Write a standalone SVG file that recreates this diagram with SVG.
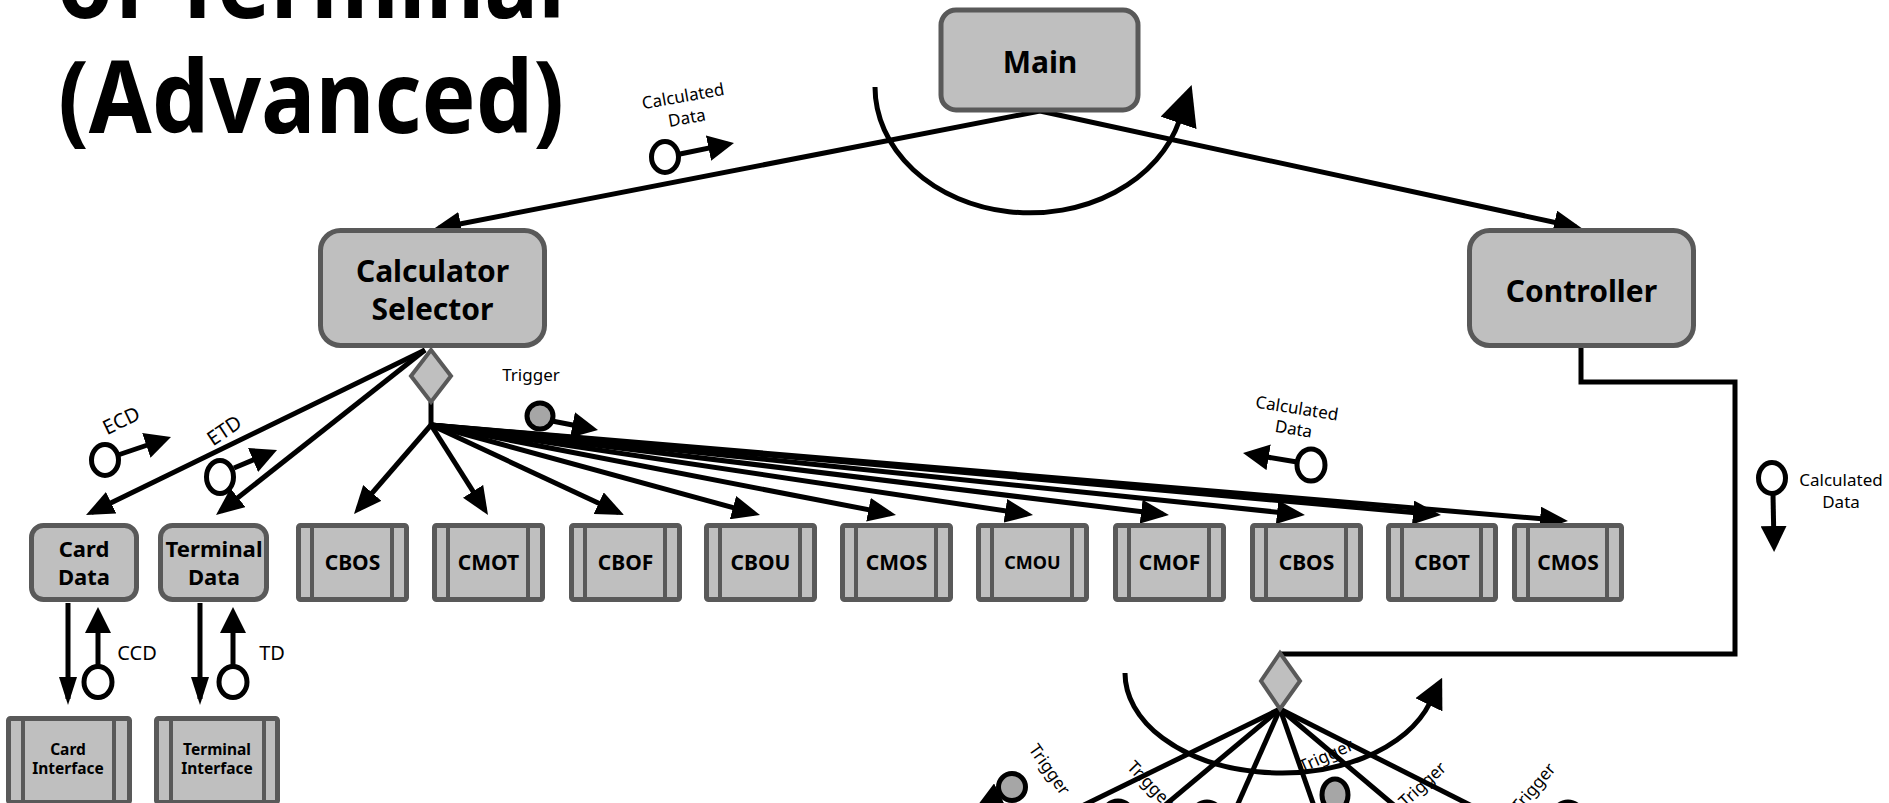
<svg xmlns="http://www.w3.org/2000/svg" width="1889" height="803" viewBox="0 0 1889 803">
<defs>
<style>
.box{fill:#bfbfbf;stroke:#595959;stroke-width:5}
.inner{stroke:#595959;stroke-width:4;fill:none}
.dia{fill:#bfbfbf;stroke:#595959;stroke-width:4}
.lbl{font-family:'Noto Sans','Open Sans',sans-serif;font-weight:700;fill:#000;text-anchor:middle}
.sm{font-family:'Noto Sans','Open Sans',sans-serif;font-size:17px;fill:#000;text-anchor:middle}
.md{font-family:'Noto Sans','Open Sans',sans-serif;font-size:20px;fill:#000;text-anchor:middle}
.ln{stroke:#000;stroke-width:5;fill:none}
.ic{fill:#fff;stroke:#000;stroke-width:5}
.ig{fill:#a6a6a6;stroke:#000;stroke-width:5}
</style>
<marker id="ah" viewBox="0 0 28 24" refX="22" refY="12" markerWidth="28" markerHeight="24" markerUnits="userSpaceOnUse" orient="auto"><path d="M0,0 L28,12 L0,24 z" fill="#000"/></marker>
<marker id="ahS" viewBox="0 0 26 26" refX="20" refY="13" markerWidth="26" markerHeight="26" markerUnits="userSpaceOnUse" orient="auto"><path d="M0,0 L26,13 L0,26 z" fill="#000"/></marker>
<marker id="ahN" viewBox="0 0 28 18" refX="22" refY="9" markerWidth="28" markerHeight="18" markerUnits="userSpaceOnUse" orient="auto"><path d="M0,0 L28,9 L0,18 z" fill="#000"/></marker>
<marker id="ahB" viewBox="0 0 40 38" refX="2" refY="19" markerWidth="40" markerHeight="38" markerUnits="userSpaceOnUse" orient="auto"><path d="M0,0 L40,19 L0,38 z" fill="#000"/></marker>
<marker id="ahM" viewBox="0 0 30 30" refX="2" refY="15" markerWidth="30" markerHeight="30" markerUnits="userSpaceOnUse" orient="auto"><path d="M0,0 L30,15 L0,30 z" fill="#000"/></marker>
</defs>
<rect width="1889" height="803" fill="#fff"/>

<g id="title" class="lbl" style="text-anchor:start">
<text x="57" y="18" font-size="100" textLength="508" lengthAdjust="spacingAndGlyphs">of Terminal</text>
<text x="58" y="133" font-size="100" textLength="506" lengthAdjust="spacingAndGlyphs">(Advanced)</text>
</g>

<g id="connectors">
<line class="ln" x1="1040" y1="111" x2="439" y2="228" marker-end="url(#ah)"/>
<line class="ln" x1="1040" y1="111" x2="1576" y2="227" marker-end="url(#ah)"/>
<path class="ln" d="M 875 87 A 155 126 0 0 0 1179.2 121" marker-end="url(#ahB)"/>
<line class="ln" x1="425" y1="350" x2="91.4" y2="512.4" marker-end="url(#ah)"/>
<line class="ln" x1="425" y1="350" x2="220.7" y2="511.3" marker-end="url(#ah)"/>
<line class="ln" x1="431" y1="402" x2="431" y2="425"/>
<line class="ln" x1="431" y1="425" x2="357.9" y2="509.5" marker-end="url(#ah)"/>
<line class="ln" x1="431" y1="425" x2="484.8" y2="509.9" marker-end="url(#ah)"/>
<line class="ln" x1="431" y1="425" x2="618.6" y2="512.5" marker-end="url(#ah)"/>
<line class="ln" x1="431" y1="425" x2="754.2" y2="513.4" marker-end="url(#ah)"/>
<line class="ln" x1="431" y1="425" x2="890.1" y2="513.9" marker-end="url(#ah)"/>
<line class="ln" x1="431" y1="425" x2="1027.1" y2="514.1" marker-end="url(#ah)"/>
<line class="ln" x1="431" y1="425" x2="1163" y2="514.3" marker-end="url(#ah)"/>
<line class="ln" x1="431" y1="425" x2="1299" y2="514.4" marker-end="url(#ah)"/>
<line class="ln" x1="431" y1="425" x2="1435" y2="514.5" marker-end="url(#ah)"/>
<line class="ln" x1="431" y1="425" x2="1562" y2="520.5" marker-end="url(#ah)"/>
<line class="ln" x1="68" y1="603" x2="68" y2="699" marker-end="url(#ahN)"/>
<line class="ln" x1="200" y1="603" x2="200" y2="699" marker-end="url(#ahN)"/>
<polyline class="ln" points="1581,348 1581,382 1735,382 1735,654 1280,654"/>
<path class="ln" d="M 1125 673 A 156 100 0 0 0 1429.8 703" marker-end="url(#ahM)"/>
<line class="ln" x1="1280" y1="709" x2="1082" y2="806"/>
<line class="ln" x1="1280" y1="709" x2="1164" y2="806"/>
<line class="ln" x1="1280" y1="709" x2="1237" y2="806"/>
<line class="ln" x1="1280" y1="709" x2="1314" y2="806"/>
<line class="ln" x1="1280" y1="709" x2="1395" y2="806"/>
<line class="ln" x1="1280" y1="709" x2="1472" y2="806"/>
</g>

<g id="main"><rect class="box" x="941" y="10" width="197" height="100" rx="15"/><text class="lbl" x="1040" y="73" font-size="30">Main</text></g>
<g id="calculator-selector"><rect class="box" x="320.5" y="230.5" width="224" height="115" rx="20"/><text class="lbl" x="432.5" y="282" font-size="30">Calculator</text><text class="lbl" x="432.5" y="320" font-size="30">Selector</text></g>
<g id="controller"><rect class="box" x="1469.5" y="230.5" width="224" height="115" rx="20"/><text class="lbl" x="1581.5" y="302" font-size="30">Controller</text></g>
<g id="decision-1"><polygon class="dia" points="431,350 451,376 431,402 411,376"/></g>
<g id="decision-2"><polygon class="dia" points="1280,653 1300,681 1280,709 1261,681"/></g>

<g id="card-data"><rect class="box" x="31.5" y="525.5" width="105" height="74" rx="12"/><text class="lbl" x="84" y="557" font-size="22">Card</text><text class="lbl" x="84" y="585" font-size="22">Data</text></g>
<g id="terminal-data"><rect class="box" x="160.5" y="525.5" width="106" height="74" rx="12"/><text class="lbl" x="214" y="557" font-size="22" textLength="97" lengthAdjust="spacingAndGlyphs">Terminal</text><text class="lbl" x="214" y="585" font-size="22">Data</text></g>

<g id="cbos-1"><rect class="box" x="298.5" y="525.5" width="108" height="74" rx="2"/><path class="inner" d="M312 525V600M392 525V600"/><text class="lbl" x="352.5" y="570" font-size="21">CBOS</text></g>
<g id="cmot"><rect class="box" x="434.5" y="525.5" width="108" height="74" rx="2"/><path class="inner" d="M448 525V600M528 525V600"/><text class="lbl" x="488.5" y="570" font-size="21">CMOT</text></g>
<g id="cbof"><rect class="box" x="571.5" y="525.5" width="108" height="74" rx="2"/><path class="inner" d="M585 525V600M665 525V600"/><text class="lbl" x="625.5" y="570" font-size="21">CBOF</text></g>
<g id="cbou"><rect class="box" x="706.5" y="525.5" width="108" height="74" rx="2"/><path class="inner" d="M720 525V600M800 525V600"/><text class="lbl" x="760.5" y="570" font-size="21">CBOU</text></g>
<g id="cmos-1"><rect class="box" x="842.5" y="525.5" width="108" height="74" rx="2"/><path class="inner" d="M856 525V600M936 525V600"/><text class="lbl" x="896.5" y="570" font-size="21">CMOS</text></g>
<g id="cmou"><rect class="box" x="978.5" y="525.5" width="108" height="74" rx="2"/><path class="inner" d="M992 525V600M1072 525V600"/><text class="lbl" x="1032.5" y="569" font-size="18">CMOU</text></g>
<g id="cmof"><rect class="box" x="1115.5" y="525.5" width="108" height="74" rx="2"/><path class="inner" d="M1129 525V600M1209 525V600"/><text class="lbl" x="1169.5" y="570" font-size="21">CMOF</text></g>
<g id="cbos-2"><rect class="box" x="1252.5" y="525.5" width="108" height="74" rx="2"/><path class="inner" d="M1266 525V600M1346 525V600"/><text class="lbl" x="1306.5" y="570" font-size="21">CBOS</text></g>
<g id="cbot"><rect class="box" x="1388.5" y="525.5" width="107" height="74" rx="2"/><path class="inner" d="M1402 525V600M1481 525V600"/><text class="lbl" x="1442" y="570" font-size="21">CBOT</text></g>
<g id="cmos-2"><rect class="box" x="1514.5" y="525.5" width="107" height="74" rx="2"/><path class="inner" d="M1528 525V600M1607 525V600"/><text class="lbl" x="1568" y="570" font-size="21">CMOS</text></g>

<g id="card-interface"><rect class="box" x="8.5" y="718.5" width="121" height="84" rx="2"/><path class="inner" d="M23 718V803M114 718V803"/><text class="lbl" x="68" y="755" font-size="15.5">Card</text><text class="lbl" x="68" y="774" font-size="15.5">Interface</text></g>
<g id="terminal-interface"><rect class="box" x="156.5" y="718.5" width="121" height="84" rx="2"/><path class="inner" d="M171 718V803M264 718V803"/><text class="lbl" x="217" y="755" font-size="15.5">Terminal</text><text class="lbl" x="217" y="774" font-size="15.5">Interface</text></g>

<g id="flow-labels">
<g transform="translate(684,102) rotate(-10)"><text class="sm" x="0" y="0">Calculated</text><text class="sm" x="0" y="22">Data</text></g>
<ellipse class="ic" cx="665" cy="157" rx="13.5" ry="15.5"/>
<line class="ln" x1="680" y1="154" x2="728.1" y2="144.1" marker-end="url(#ahS)"/>

<text class="md" transform="translate(121,420) rotate(-26)" dominant-baseline="central">ECD</text>
<ellipse class="ic" cx="105" cy="460" rx="13.5" ry="15.5"/>
<line class="ln" x1="118" y1="455" x2="165.3" y2="439" marker-end="url(#ahS)"/>

<text class="md" transform="translate(224,430) rotate(-34)" dominant-baseline="central">ETD</text>
<ellipse class="ic" cx="220" cy="477" rx="13.5" ry="16.5"/>
<line class="ln" x1="234" y1="468" x2="271.5" y2="452.3" marker-end="url(#ahS)"/>

<text class="sm" x="531" y="381">Trigger</text>
<circle class="ig" cx="540" cy="416" r="13"/>
<line class="ln" x1="552" y1="421" x2="592.1" y2="428.8" marker-end="url(#ahS)"/>

<g transform="translate(1296,414) rotate(9)"><text class="sm" x="0" y="0">Calculated</text><text class="sm" x="0" y="21">Data</text></g>
<ellipse class="ic" cx="1311" cy="465" rx="14" ry="16"/>
<line class="ln" x1="1297" y1="462" x2="1248.9" y2="454" marker-end="url(#ahS)"/>

<text class="sm" x="1841" y="486">Calculated</text><text class="sm" x="1841" y="508">Data</text>
<ellipse class="ic" cx="1772" cy="478" rx="13.5" ry="15.5"/>
<line class="ln" x1="1773" y1="494" x2="1774" y2="546" marker-end="url(#ahS)"/>

<ellipse class="ic" cx="98" cy="682" rx="14" ry="15.5"/>
<line class="ln" x1="98" y1="667" x2="98" y2="613" marker-end="url(#ahS)"/>
<text class="md" x="137" y="660">CCD</text>
<ellipse class="ic" cx="233" cy="682" rx="14" ry="15.5"/>
<line class="ln" x1="233" y1="667" x2="233" y2="613" marker-end="url(#ahS)"/>
<text class="md" x="272" y="660">TD</text>

<text class="sm" transform="translate(1050,769) rotate(55)" dominant-baseline="central">Trigger</text>
<circle class="ig" cx="1012" cy="787" r="13.5"/>
<line class="ln" x1="998" y1="796" x2="982" y2="804" marker-end="url(#ahS)"/>
<text class="sm" transform="translate(1151,784) rotate(46)" dominant-baseline="central">Trigger</text>
<text class="sm" transform="translate(1326,755) rotate(-24)" dominant-baseline="central">Trigger</text>
<ellipse class="ig" cx="1335" cy="795" rx="13" ry="16"/>
<text class="sm" transform="translate(1422,784) rotate(-43)" dominant-baseline="central">Trigger</text>
<text class="sm" transform="translate(1533,787) rotate(-50)" dominant-baseline="central">Trigger</text>
<circle class="ic" cx="1118" cy="816" r="15"/>
<circle class="ic" cx="1207" cy="817" r="15"/>
<circle class="ic" cx="1568" cy="817" r="15"/>
</g>
</svg>
